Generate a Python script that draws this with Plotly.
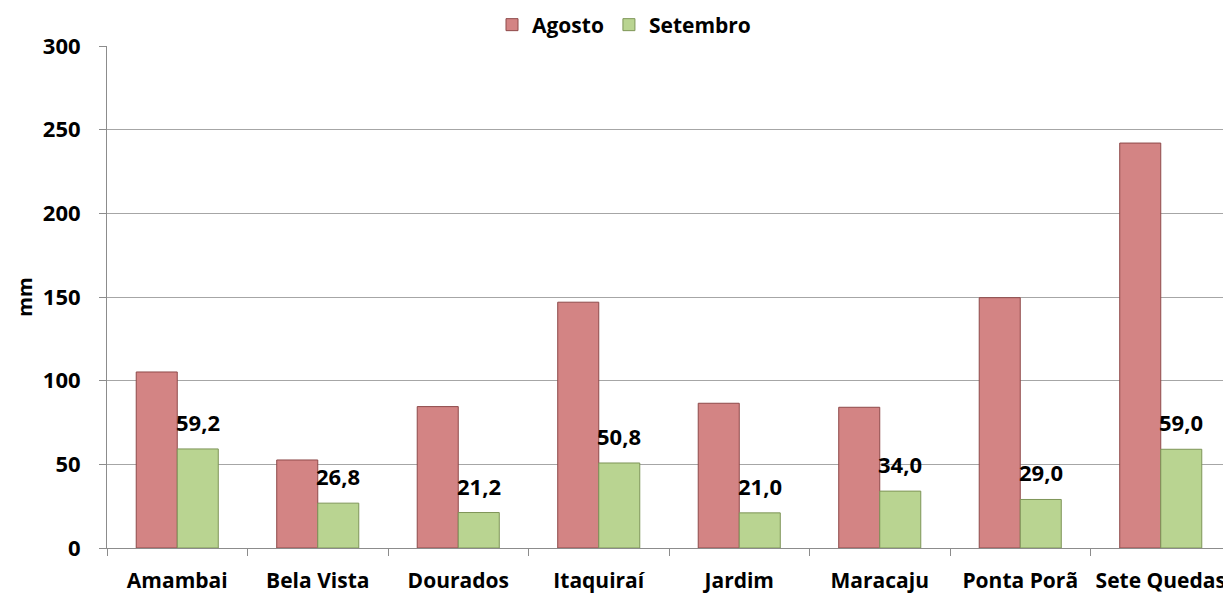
import plotly.graph_objects as go

categories = ["Amambai", "Bela Vista", "Dourados", "Itaquiraí", "Jardim",
              "Maracaju", "Ponta Porã", "Sete Quedas"]
agosto = [105.2, 52.6, 84.5, 146.9, 86.5, 84.1, 149.6, 242.0]
setembro = [59.2, 26.8, 21.2, 50.8, 21.0, 34.0, 29.0, 59.0]
setembro_labels = ["59,2", "26,8", "21,2", "50,8", "21,0", "34,0", "29,0", "59,0"]
y_ticks = [0, 50, 100, 150, 200, 250, 300]

FONT = "Open Sans"
# page body has an 8px offset; figure sized so the plot area lands where the reference has it
W, H = 1223, 586
ML, MR, MT, MB = 99, 0, 38, 46
PH = H - MT - MB
PW = W - ML - MR

fig = go.Figure()
fig.add_trace(go.Bar(
    name="Agosto", x=categories, y=agosto,
    marker=dict(color="#D38484", line=dict(color="#8E4A4A", width=1)),
))
fig.add_trace(go.Bar(
    name="Setembro", x=categories, y=setembro,
    marker=dict(color="#B9D491", line=dict(color="#7E9558", width=1)),
))

cat_px = PW / len(categories)
bar_px = cat_px * (1 - 0.416) / 2
for c, v, t in zip(categories, setembro, setembro_labels):
    fig.add_annotation(
        x=c, y=v, xref="x", yref="y", text=t, showarrow=False,
        xshift=bar_px / 2, yshift=27, yanchor="middle",
        font=dict(family=FONT, size=22, color="black", weight="bold"),
    )

fig.update_layout(
    width=W, height=H,
    margin=dict(l=ML, r=MR, t=MT, b=MB, autoexpand=False),
    paper_bgcolor="white", plot_bgcolor="white",
    barmode="group", bargap=0.416, bargroupgap=0,
    font=dict(family=FONT, color="black"),
    legend=dict(
        orientation="h", xref="paper", yref="paper",
        x=(616 - ML) / PW, xanchor="center",
        y=1 + 21 / PH, yanchor="middle",
        font=dict(family=FONT, size=21, color="black", weight="bold"),
        tracegroupgap=0,
    ),
    showlegend=True,
)
fig.update_xaxes(
    showgrid=False, showline=True, linecolor="#8C8C8C", linewidth=1,
    ticks="outside", tickson="boundaries", ticklen=7, tickcolor="#8C8C8C",
    tickfont=dict(family=FONT, size=21, color="black", weight="bold"),
    tickangle=0, automargin=False,
    ticklabelstandoff=14,
)
fig.update_yaxes(
    range=[0, 300], tickvals=y_ticks,
    showgrid=True, gridcolor="#A6A6A6", gridwidth=1,
    showline=True, linecolor="#8C8C8C", linewidth=1,
    ticks="outside", ticklen=7, tickcolor="#8C8C8C",
    tickfont=dict(family=FONT, size=22, color="black", weight="bold"),
    ticklabelstandoff=14, automargin=False,
    title=dict(text="mm", standoff=4,
               font=dict(family=FONT, size=20, color="black", weight="bold")),
    zeroline=False,
)

fig.write_html("out.html")
